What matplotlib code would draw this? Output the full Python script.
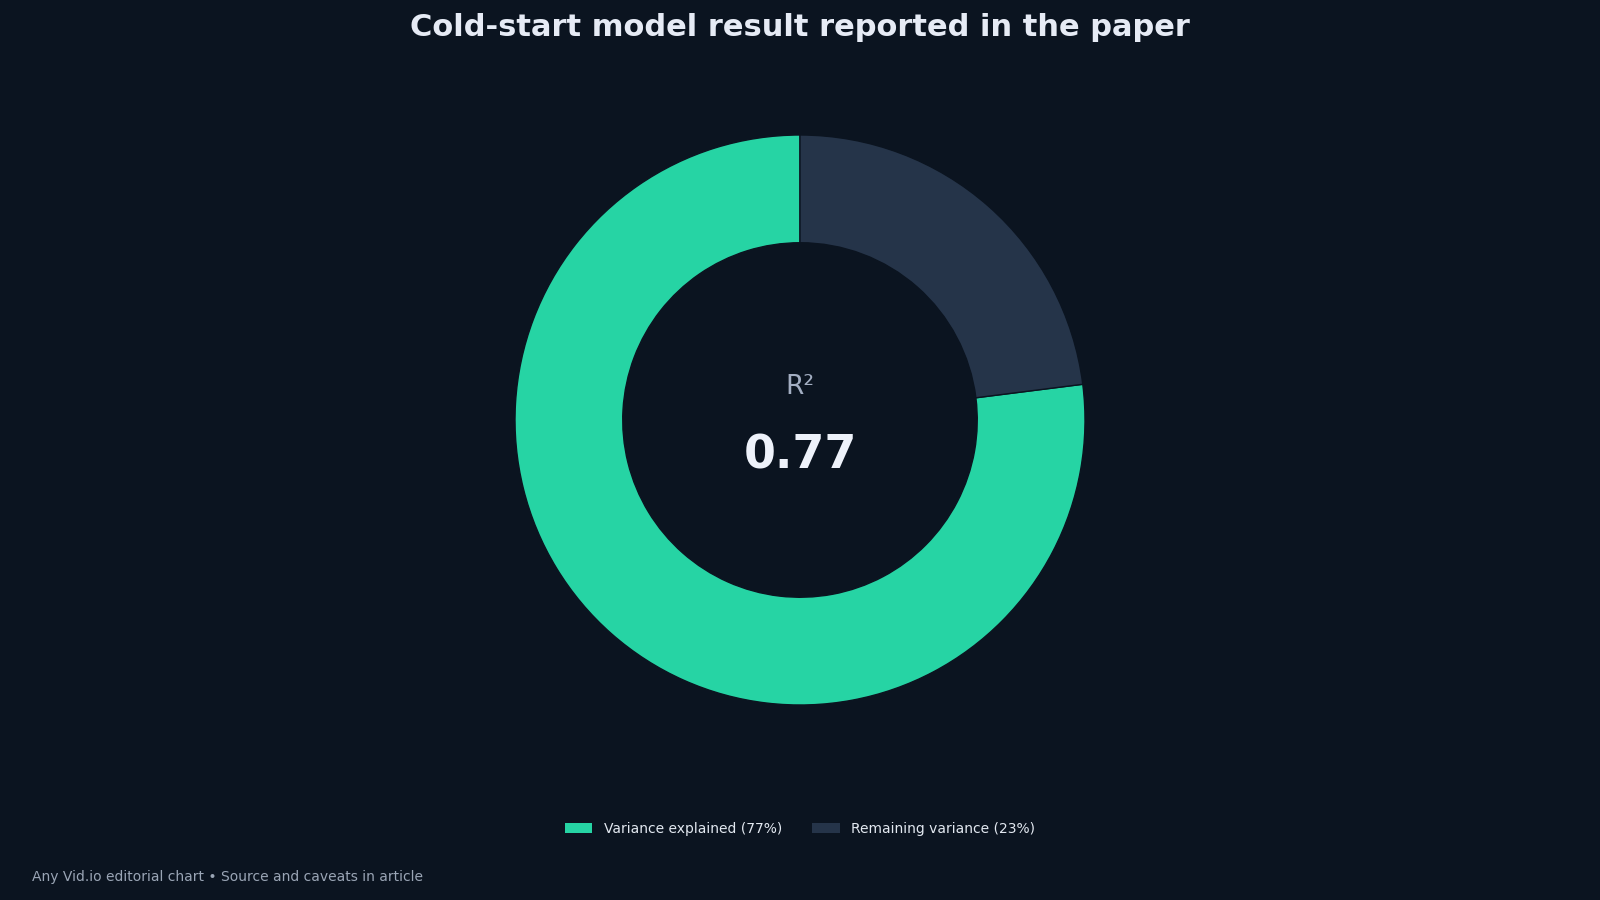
import matplotlib.pyplot as plt
from matplotlib.patches import Patch

BG = "#0b1420"
labels = ["Variance explained (77%)", "Remaining variance (23%)"]
values = [77, 23]
colors = ["#26d4a4", "#253449"]
metric_name = "R\u00b2"
metric_value = "0.77"

fig = plt.figure(figsize=(16, 9), dpi=100, facecolor=BG)
ax = fig.add_axes([0, 0, 1, 1])
ax.set_facecolor(BG)

# donut
ax.pie(values, colors=colors, startangle=90, radius=1.0,
       wedgeprops=dict(width=0.378, edgecolor=BG, linewidth=1))
r_px = 285
ax.set_xlim(-800 / r_px, 800 / r_px)
ax.set_ylim(-480 / r_px, 420 / r_px)
ax.set_aspect("equal")
ax.axis("off")

ax.text(0, 0.115, metric_name, ha="center", va="center", fontsize=19, color="#a3aec2")
ax.text(0, -0.125, metric_value, ha="center", va="center", fontsize=33,
        fontweight="bold", color="#eef2fa")

fig.text(0.5, 0.969, "Cold-start model result reported in the paper", ha="center", va="center",
         fontsize=22, fontweight="bold", color="#e6ebf5")

handles = [Patch(facecolor=c, edgecolor="none") for c in colors]
leg = fig.legend(handles, labels, loc="center", bbox_to_anchor=(0.5, 0.079), ncol=2,
                 frameon=False, fontsize=10, handlelength=2.0, handleheight=0.7,
                 columnspacing=2.2)
for t in leg.get_texts():
    t.set_color("#e2e8f0")

fig.text(0.02, 0.026, "Any Vid.io editorial chart \u2022 Source and caveats in article",
         ha="left", va="center", fontsize=10, color="#9aa5b5")

fig.savefig("out.png", dpi=100, facecolor=BG)
